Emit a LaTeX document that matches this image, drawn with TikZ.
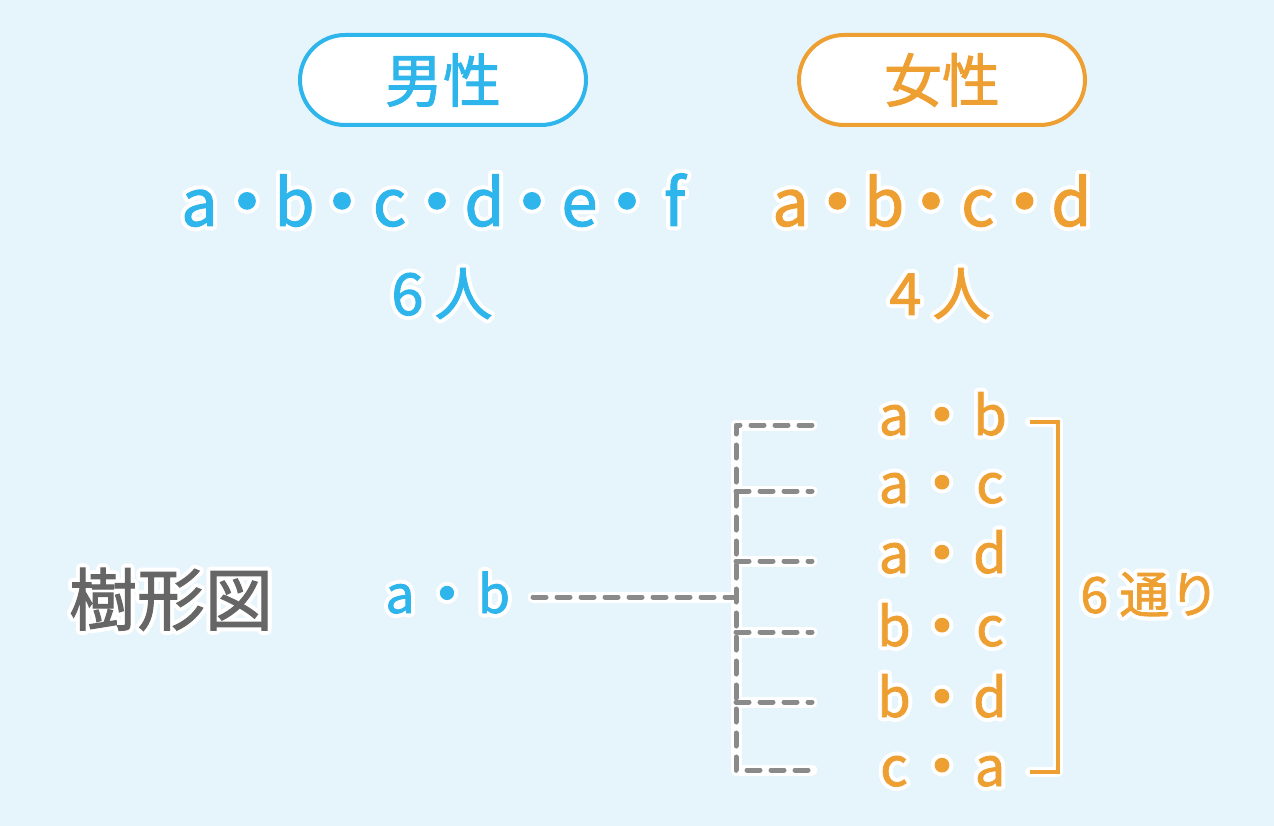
\documentclass[tikz,border=0pt]{standalone}
\usepackage{fontspec}
\usepackage{graphicx}
\setmainfont{Noto Sans CJK JP}[RawFeature={embolden=1.5}]
\usetikzlibrary{calc}
\definecolor{cblue}{HTML}{2EB5EC}
\definecolor{corange}{HTML}{EE9F32}
\definecolor{cgray}{HTML}{666666}
\definecolor{cdash}{HTML}{8A8A8A}
\definecolor{cbg}{HTML}{E6F4FC}
\newlength\cellw
\newcommand\cl[1]{\makebox[\cellw][c]{#1}}
\newcommand\dt{\makebox[\cellw][c]{\raisebox{-0.07em}{\scalebox{1.2}{・}}}}
\newcommand\halonode[4]{%
  \foreach \ha in {0,22.5,...,337.5}
    \node[#3,text=white] at ($(#2)+(\ha:4pt)$) {#4};
  \node[#3] (#1) at (#2) {#4};}
\tikzset{
  txt/.style={inner sep=0pt, anchor=base},
  fs/.style={font=\fontsize{#1}{#1}\selectfont},
  cells/.style={execute at begin node={\setlength\cellw{#1}}},
  pill/.style={draw=#1, line width=4pt, fill=white, rounded corners=45pt,
    minimum width=286pt, minimum height=90pt, inner sep=0pt, text=#1,
    font=\fontsize{58}{58}\selectfont},
  halow/.style={draw=white, line width=11pt, line cap=round, line join=round},
  dashg/.style={draw=cdash, line width=5pt, dash pattern=on 13pt off 11pt, line cap=round, line join=round},
  brw/.style={draw=white, line width=10pt, line cap=round, line join=round},
  bro/.style={draw=corange, line width=4pt},
}
\begin{document}
\begin{tikzpicture}[x=1pt,y=-1pt]
\fill[cbg] (0,0) rectangle (1274,826);
\useasboundingbox (0,0) rectangle (1274,826);

% header pills
\node[pill=cblue] (male) at (443,80) {男性};
\node[pill=corange] (female) at (942,80) {女性};

% rows of people
\halonode{mrow}{437,226}{txt,fs=65,cells=47.5pt,text=cblue}{\cl{a}\dt\cl{b}\dt\cl{c}\dt\cl{d}\dt\cl{e}\dt\cl{f}}
\halonode{frow}{931,226}{txt,fs=65,cells=46.8pt,text=corange}{\cl{a}\dt\cl{b}\dt\cl{c}\dt\cl{d}}
\halonode{mnum}{442,315}{txt,fs=58,text=cblue}{6\hspace{11pt}人}
\halonode{fnum}{940,315}{txt,fs=58,text=corange}{4\hspace{11pt}人}

% tree label
\halonode{tlabel}{171,625}{txt,fs=68,text=cgray}{樹形図}
\halonode{mab}{447,613}{txt,fs=52,cells=47pt,text=cblue}{\cl{a}\dt\cl{b}}

% tree coordinates
\coordinate (ms) at (533,597);
\coordinate (tj) at (736,597);
\coordinate (t1) at (736,425); \coordinate (e1) at (812,425);
\coordinate (t2) at (736,491); \coordinate (e2) at (812,491);
\coordinate (t3) at (736,561); \coordinate (e3) at (812,561);
\coordinate (t4) at (736,632); \coordinate (e4) at (812,632);
\coordinate (t5) at (736,702); \coordinate (e5) at (812,702);
\coordinate (t6) at (736,770); \coordinate (e6) at (812,770);

% bracket coordinates
\coordinate (b1) at (1030,422); \coordinate (b2) at (1058,422);
\coordinate (b3) at (1058,772); \coordinate (b4) at (1030,772);

% halos
\draw[halow] (e1) -- (t1) -- (t6) -- (e6);
\draw[halow] (t2) -- (e2) (t3) -- (e3) (t4) -- (e4) (t5) -- (e5);
\draw[halow] (ms) -- (tj);
\draw[brw] (b1) -- (b2) -- (b3) -- (b4);

% dashed tree
\draw[dashg] (e1) -- (t1) -- (t6) -- (e6);
\foreach \i in {2,...,5} \draw[dashg] (t\i) -- (e\i);
\draw[dashg] (ms) -- (tj);
\draw[bro] (b1) -- (b2) -- (b3) -- (b4);

% pairs
\halonode{p1}{942,435}{txt,fs=54,cells=48pt,text=corange}{\cl{a}\dt\cl{b}}
\halonode{p2}{942,503}{txt,fs=54,cells=48pt,text=corange}{\cl{a}\dt\cl{c}}
\halonode{p3}{942,573}{txt,fs=54,cells=48pt,text=corange}{\cl{a}\dt\cl{d}}
\halonode{p4}{942,646}{txt,fs=54,cells=48pt,text=corange}{\cl{b}\dt\cl{c}}
\halonode{p5}{942,717}{txt,fs=54,cells=48pt,text=corange}{\cl{b}\dt\cl{d}}
\halonode{p6}{942,786}{txt,fs=54,cells=48pt,text=corange}{\cl{c}\dt\cl{a}}

\halonode{count}{1150,613}{txt,fs=50,text=corange}{6 通り}
\end{tikzpicture}
\end{document}
